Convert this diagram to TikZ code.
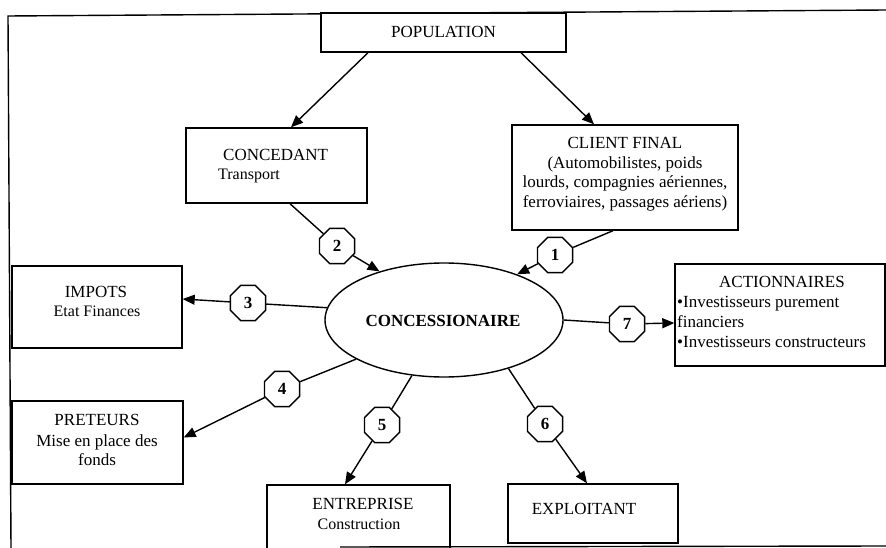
\documentclass[tikz,border=0pt]{standalone}
\usepackage{fontspec}
\setmainfont{Liberation Serif}
\usetikzlibrary{shapes.geometric,arrows.meta}
\begin{document}
\begin{tikzpicture}[x=1pt,y=-1pt,
  ln/.style={line width=1.4pt},
  arr/.style={line width=1.4pt,-{Triangle[length=12pt,width=10pt]}},
  box/.style={draw,line width=1.4pt,inner sep=0pt},
  txt/.style={inner sep=0pt,anchor=base,font=\fontsize{17}{20}\selectfont},
  stxt/.style={inner sep=0pt,anchor=base,font=\fontsize{16}{19}\selectfont},
  oct/.style={draw,fill=white,line width=1.4pt,regular polygon,regular polygon sides=8,minimum size=38pt,inner sep=0pt,font=\fontsize{17}{17}\selectfont\bfseries}]
\useasboundingbox (0,0) rectangle (886,548);
\clip (0,0) rectangle (886,548);
\fill[white] (0,0) rectangle (886,548);
% frame
\coordinate (fA) at (8,16);
\coordinate (fB) at (886,10);
\coordinate (fC) at (11,548);
\coordinate (fD) at (340,547);
\coordinate (fE) at (886,546);
\draw[ln] (fC) -- (fA) -- (fB);
\draw[ln] (fD) -- (fE);
% boxes
\node[box,fill=white,minimum width=245pt,minimum height=39pt] (pop) at (443.5,32.5) {};
\node[box,minimum width=181pt,minimum height=75pt] (conc) at (276.5,165.5) {};
\node[box,minimum width=226pt,minimum height=105pt] (client) at (625,177.5) {};
\node[box,minimum width=170pt,minimum height=82pt] (imp) at (97,307) {};
\node[box,minimum width=171pt,minimum height=83pt] (pret) at (97.5,442.5) {};
\node[box,minimum width=183pt,minimum height=80pt] (ent) at (358.5,525) {};
\node[box,minimum width=170pt,minimum height=59pt] (expl) at (593,513.5) {};
\node[box,minimum width=210pt,minimum height=102pt] (act) at (780,315) {};
\node[draw,line width=1.4pt,ellipse,minimum width=238pt,minimum height=114pt,inner sep=0pt] (ell) at (444,320) {};
% texts
\node[txt] (tPop) at (443.5,37.5) {POPULATION};
\node[txt,anchor=base west] (tConc) at (223,161) {CONCEDANT};
\node[stxt,anchor=base west] (tConc2) at (218,180) {Transport};
\node[txt] (tCl1) at (625,149) {CLIENT FINAL};
\node[txt] (tCl2) at (625,168.5) {(Automobilistes, poids};
\node[txt] (tCl3) at (625,188) {lourds, compagnies aériennes,};
\node[txt] (tCl4) at (625,207.5) {ferroviaires, passages aériens)};
\node[txt] (tImp1) at (96,297) {IMPOTS};
\node[stxt] (tImp2) at (97,316.5) {Etat Finances};
\node[txt] (tPr1) at (97,425) {PRETEURS};
\node[txt] (tPr2) at (97,446) {Mise en place des};
\node[txt] (tPr3) at (97,465.5) {fonds};
\node[txt,font=\fontsize{17}{20}\selectfont\bfseries] (tEll) at (443,326.5) {CONCESSIONAIRE};
\node[txt] (tEnt1) at (363,509) {ENTREPRISE};
\node[stxt] (tEnt2) at (359,529) {Construction};
\node[txt] (tExp) at (584,514) {EXPLOITANT};
\node[txt] (tAct1) at (782,287) {ACTIONNAIRES};
\node[txt,anchor=base west] (tAct2) at (677,307.5) {•Investisseurs purement};
\node[txt,anchor=base west] (tAct3) at (677,327) {financiers};
\node[txt,anchor=base west] (tAct4) at (677,347) {•Investisseurs constructeurs};
% octagons
\node[oct] (o1) at (555,255) {1};
\node[oct] (o2) at (337,246) {2};
\node[oct] (o3) at (248,303) {3};
\node[oct] (o4) at (282,389) {4};
\node[oct] (o5) at (382,425) {5};
\node[oct] (o6) at (545,424) {6};
\node[oct] (o7) at (627,324) {7};
% connectors
\draw[arr] ([xshift=-75.5pt]pop.south) -- ([xshift=14.5pt]conc.north);
\draw[arr] ([xshift=77.5pt]pop.south) -- ([xshift=-31pt]client.north);
\draw[ln] ([xshift=13.5pt]conc.south) -- (o2);
\draw[arr] (o2) -- (ell.143);
\draw[ln] ([xshift=-12pt]client.south) -- (o1);
\draw[arr] (o1) -- (ell.32);
\draw[ln] (ell.174) -- (o3);
\draw[arr] (o3) -- ([yshift=8pt]imp.east);
\draw[ln] (ell.204) -- (o4);
\draw[arr] (o4) -- ([yshift=5pt]pret.east);
\draw[ln] (ell.240) -- (o5);
\draw[arr] (o5) -- ([xshift=-13.5pt]ent.north);
\draw[ln] (ell.323) -- (o6);
\draw[arr] (o6) -- ([xshift=-6pt]expl.north);
\draw[ln] (ell.0) -- (o7);
\draw[arr] (o7) -- ([yshift=-8pt]act.west);
\end{tikzpicture}
\end{document}
